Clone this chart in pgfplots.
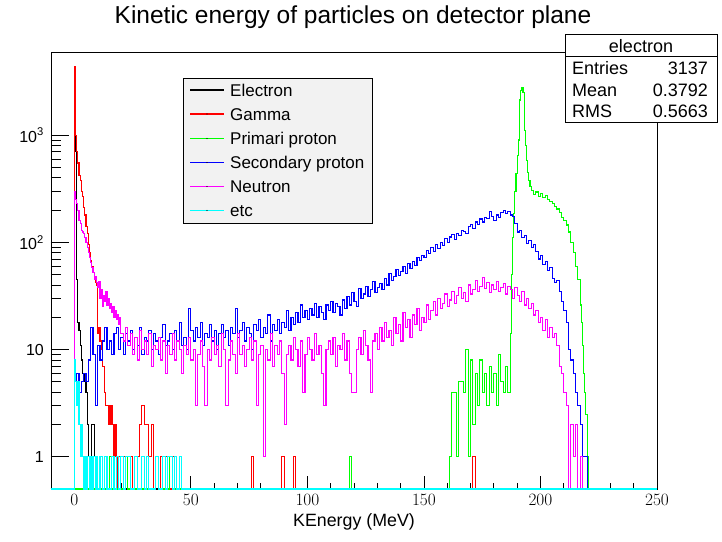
\documentclass[border=0pt]{standalone}
\usepackage{pgfplots}
\pgfplotsset{compat=1.18}
\usepackage{fontspec}
\setmainfont{Liberation Sans}
\definecolor{rgreen}{RGB}{0,255,0}
\definecolor{rcyan}{RGB}{0,255,255}
\definecolor{rmag}{RGB}{255,0,255}
\definecolor{rblue}{RGB}{0,0,255}
\definecolor{rred}{RGB}{255,0,0}
\definecolor{legfill}{RGB}{242,242,242}
\begin{document}
\begin{tikzpicture}[x=1pt,y=1pt]
\useasboundingbox (0,0) rectangle (722,541);
% frame, x ticks and x labels
\begin{axis}[
  at={(51pt,52pt)}, anchor=south west,
  width=606pt, height=436pt, scale only axis,
  xmin=-10, xmax=250, ymin=0, ymax=1,
  ytick=\empty, minor ytick={},
  axis line style={black, line width=1pt},
  xtick={0,50,...,250}, minor xtick={-10,0,...,250}, xtick pos=left,
  major tick length=13pt, minor tick length=6.5pt,
  tick style={black, line width=0.8pt},
  xticklabel style={font=\fontsize{16}{18}\selectfont, anchor=base, inner sep=0pt, yshift=-16.7pt},
  xlabel={KEnergy (MeV)},
  xlabel style={at={(axis description cs:0.5,-0.0757)}, anchor=center, font=\fontsize{17.8}{20}\selectfont},
]
\end{axis}
% data, y ticks
\begin{axis}[
  clip=false,
  at={(51pt,52pt)}, anchor=south west,
  width=606pt, height=436pt, scale only axis,
  xmin=-10, xmax=250, ymode=log, ymin=0.5, ymax=5840,
  xtick=\empty, minor xtick={},
  ytick={1,10,100,1000},
  yticklabels={1,10,10\textsuperscript{2},10\textsuperscript{3}},
  ytick pos=left,
  major tick length=18pt, minor tick length=10pt,
  tick style={black, line width=0.8pt},
  axis line style={draw=none},
  yticklabel style={font=\fontsize{16}{18}\selectfont, anchor=east, inner sep=0pt, xshift=-7pt},
  every axis plot/.append style={const plot, line width=1.15pt},
]
% Electron
\addplot[draw=black] table {
-10 0.5
0 1450
0.5 700
1 45
1.5 18
2 15
2.5 11
3 8
3.5 6
4 5
4.5 6
5 4
5.5 2
6 1
6.5 0.5
7 1
7.5 2
8 2
8.5 1
9 0.5
250 0.5
};
% Gamma
\addplot[draw=rred] table {
-10 0.5
0 4400
0.5 1000
1 700
1.5 550
2 420
2.5 380
3 300
3.5 270
4 210
4.5 180
5 140
5.5 120
6 95
6.5 80
7 68
7.5 60
8 52
8.5 45
9 42
9.5 40
10 14
10.5 16
11 12
11.5 10
12 7
12.5 7
13 4
13.5 3
14 3
14.5 2
15 3
15.5 2
16 3
16.5 2
17 1
17.5 2
18 1
18.5 0.5
19 1
20 0.5
21 1
23 0.5
24 1
25 0.5
26 1
28 2
29 3
30 2
32 1
33 2
34 0.5
35 1
36 0.5
37 1
38 0.5
39 1
40 0.5
42 1
43 0.5
45 1
46 0.5
76 1
77 0.5
89 1
90 0.5
94 1
95 0.5
171 1
172 0.5
250 0.5
};
% Primary proton
\addplot[draw=rgreen] table {
-10 0.5
15 1
16 0.5
22 1
23 0.5
35 1
36 0.5
41 1
42 0.5
118 1
119 0.5
161 1
162 4
163 4
164 1
165 5
166 5
167 4
168 10
169 1
170 8
171 2
172 6
173 3
174 8
175 4
176 6
177 3
178 7
179 4
180 6
181 3
182 9
183 5
184 4
185 7
186 4
187 14
187.5 50
188 111
188.5 186
189 300
189.5 440
190 650
190.5 900
191 2130
191.5 2600
192 2750
192.5 2500
193 1100
193.5 800
194 580
194.5 450
195 380
195.5 330
196 305
197 280
198 295
199 270
200 285
201 260
202 275
203 250
204 240
205 230
206 215
207 205
208 190
209 170
210 160
211 145
212 125
213 100
214 80
215 60
216 45
217 26
217.5 18
218 11
218.5 6
219 4
219.5 2.5
220 1
220.5 0.5
250 0.5
};
% Secondary proton
\addplot[draw=rblue] table {
-10 0.5
0 5
1 6
2 4
3 5
4 6
5 5
6 8
7 16
8 9
9 3
10 11
11 8
12 12
13 16
14 10
15 12
16 9
17 14
18 16
19 10
20 13
21 9
22 14
23 12
24 15
25 10
26 13
27 11
28 16
29 9
30 13
31 12
32 15
33 10
34 14
35 12
36 9
37 13
38 17
39 11
40 12
41 14
42 10
43 15
44 12
45 18
46 11
47 13
48 10
49 24
50 15
51 12
52 16
53 13
54 18
55 11
56 14
57 13
58 17
59 12
60 15
61 10
62 14
63 17
64 13
65 15
66 11
67 16
68 14
69 24
70 13
71 15
72 18
73 12
74 16
75 14
76 10
77 17
78 15
79 19
80 13
81 16
82 14
83 21
84 12
85 17
86 15
87 19
88 14
89 18
90 16
91 23
92 15
93 20
94 17
95 22
96 18
97 26
98 20
99 23
100 19
101 24
102 21
103 27
104 20
105 25
106 22
107 19
108 26
109 23
110 28
111 22
112 27
113 25
114 21
115 29
116 24
117 31
118 26
119 34
120 28
121 25
122 37
123 30
124 33
125 39
126 31
127 36
128 43
129 34
130 38
131 41
132 36
133 46
134 40
135 51
136 44
137 48
138 56
139 49
140 53
141 59
142 51
143 63
144 57
145 66
146 61
147 72
148 68
149 76
150 72
151 84
152 78
153 90
154 82
155 96
156 88
157 100
158 94
159 108
160 100
161 112
162 118
163 106
164 122
165 115
166 130
167 126
168 120
169 140
170 148
171 135
172 155
173 148
174 165
175 155
176 172
177 168
178 195
179 175
180 160
181 180
182 170
183 190
184 200
185 185
186 195
187 180
188 175
189 150
190 125
191 130
192 110
193 115
194 98
195 105
196 90
197 95
198 82
199 70
200 75
201 62
202 66
203 55
204 58
205 46
206 42
207 44
208 35
209 28
210 23
211 18
212 10
213 8
214 6
215 4
216 3
217 2
218 1
219 1
220 0.5
250 0.5
};
% Neutron
\addplot[draw=rmag] table {
-10 0.5
0 300
0.5 250
1 230
1.5 200
2 160
2.5 150
3 130
3.5 125
4 120
4.5 110
5 100
5.5 90
6 80
6.5 72
7 65
7.5 58
8 52
8.5 45
9 48
9.5 42
10 38
10.5 43
11 30
11.5 36
12 25
12.5 32
13 28
13.5 35
14 26
14.5 30
15 24
15.5 27
16 22
16.5 25
17 20
17.5 23
18 19
18.5 21
19 17
19.5 20
20 14
21 12
22 16
23 11
24 14
25 9
26 13
27 8
28 15
29 10
30 12
31 9
32 14
33 7
34 11
35 10
36 13
37 8
38 12
39 6
40 11
41 9
42 14
43 8
44 12
45 10
46 6
47 11
48 9
49 13
50 8
51 10
52 3
53 9
54 12
55 7
56 3
57 10
58 8
59 13
60 9
61 11
62 7
63 14
64 10
65 3
66 8
67 12
68 9
69 6
70 14
71 9
72 11
73 7
74 10
75 13
76 8
77 12
78 3
79 9
80 11
81 1
82 10
83 8
84 14
85 7
86 11
87 9
88 12
89 6
90 2
91 9
92 11
93 8
94 13
95 10
96 7
97 12
98 4
99 9
100 13
101 10
102 8
103 14
104 9
105 11
106 6
107 3
108 10
109 12
110 9
111 13
112 7
113 11
114 10
115 14
116 8
117 12
118 6
119 4
120 4
121 10
122 13
123 9
124 15
125 11
126 8
127 4
128 12
129 14
130 10
131 16
132 12
133 18
134 13
135 15
136 11
137 20
138 14
139 17
140 12
141 22
142 16
143 19
144 13
145 21
146 17
147 24
148 15
149 20
150 18
151 26
152 19
153 23
154 28
155 21
156 30
157 24
158 27
159 33
160 25
161 29
162 35
163 27
164 32
165 38
166 30
167 34
168 28
169 40
170 33
171 36
172 44
173 35
174 39
175 47
176 37
177 42
178 34
179 40
180 36
181 43
182 35
183 38
184 41
185 33
186 39
187 36
188 30
189 38
190 32
191 28
192 35
193 26
194 30
195 24
196 27
197 21
198 23
199 18
200 20
201 15
202 19
203 13
204 16
205 13
206 14
207 11
208 7
209 6
210 4
211 3
212 0.5
213 2
214 1
215 2
216 0.5
217 1
218 0.5
250 0.5
};
% etc
\addplot[draw=rcyan] table {
-10 0.5
0 8
0.5 5
1 3
1.5 5
2 2
2.5 1
3 2
3.5 1
4 0.5
4.5 1
5 0.5
5.5 1
6.5 0.5
7 1
7.5 0.5
8 1
9 0.5
9.5 1
10 0.5
11 1
12 0.5
13 1
14 0.5
16 1
17 0.5
18 1
19 0.5
20 1
21 0.5
22 1
24 0.5
26 1
27 0.5
29 1
30 0.5
31 1
32 0.5
35 1
36 0.5
38 1
39 0.5
40 1
42 0.5
43 1
44 0.5
45 1
46 0.5
250 0.5
};
\end{axis}
% legend
\draw[black, line width=0.8pt, fill=legfill] (183,463) rectangle (372,318);
\begin{scope}[every node/.style={font=\fontsize{17}{20}\selectfont, inner sep=0pt, anchor=base west}]
\foreach \yy/\cc/\tt in {451/black/Electron, 427/rred/Gamma, 402.5/rgreen/Primari proton,
                        378.5/rblue/Secondary proton, 354.5/rmag/Neutron, 330.5/rcyan/etc}{
  \draw[\cc, line width=1.15pt] (190,\yy) -- (224,\yy);
  \fill[black] (207,\yy) circle (0.6pt);
  \node at (230,\yy-6.1) {\tt};
}
\end{scope}
% title
\node[font=\fontsize{24.5}{29}\selectfont, anchor=center] at (353,524) {Kinetic energy of particles on detector plane};
% stats box
\draw[black, line width=0.8pt, fill=white] (565,507) rectangle (717,419);
\draw[black, line width=0.8pt] (565,484.5) -- (717,484.5);
\begin{scope}[every node/.style={font=\fontsize{18}{20}\selectfont, inner sep=0pt}]
\node[anchor=center] at (641,495) {electron};
\node[anchor=west] at (572,472.7) {Entries};
\node[anchor=east] at (708,472.7) {3137};
\node[anchor=west] at (572,450.5) {Mean};
\node[anchor=east] at (708,450.5) {0.3792};
\node[anchor=west] at (572,429.5) {RMS};
\node[anchor=east] at (708,429.5) {0.5663};
\end{scope}
\end{tikzpicture}
\end{document}
